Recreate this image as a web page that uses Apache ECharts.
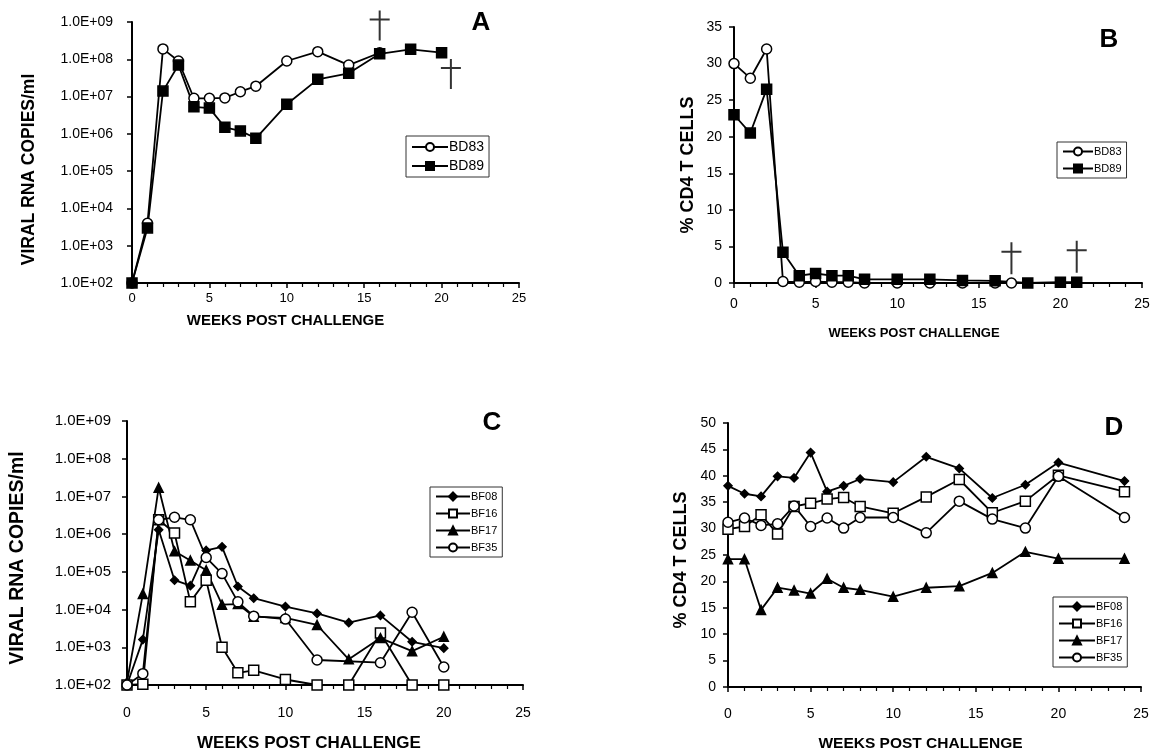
<!DOCTYPE html>
<html>
<head>
<meta charset="utf-8">
<script src="https://cdn.jsdelivr.net/npm/echarts@6/dist/echarts.min.js"></script>
<style>html,body{margin:0;padding:0;background:#fff}#c{width:1153px;height:753px}</style>
</head>
<body>
<div id="c"></div>
<script>
// ---------- DATA ----------
// Panel A: viral RNA copies/ml (log)
const weeksA83 = [0,1,2,3,4,5,6,7,8,10,12,14,16];
const bd83A    = [1e2,4e3,1.9e8,9e7,9e6,9e6,9.2e6,1.35e7,1.9e7,9e7,1.6e8,7e7,1.5e8];
const weeksA89 = [0,1,2,3,4,5,6,7,8,10,12,14,16,18,20];
const bd89A    = [1e2,3e3,1.4e7,7e7,5.3e6,4.9e6,1.5e6,1.2e6,7.6e5,6.2e6,2.9e7,4.2e7,1.4e8,1.85e8,1.5e8];
const deathWeeksA = [16,20.6];
const deathLevelA = [8e8,4e7];

// Panel B: % CD4 T cells
const weeksB83 = [0,1,2,3,4,5,6,7,8,10,12,14,16,17];
const bd83B    = [30,28,32,0.2,0.1,0.2,0.1,0.1,0,0,0,0,0,0];
const weeksB89 = [0,1,2,3,4,5,6,7,8,10,12,14,16,18,20,21];
const bd89B    = [23,20.5,26.5,4.2,1.0,1.3,1.0,1.0,0.5,0.5,0.5,0.35,0.3,0,0.1,0.1];
const deathWeeksB = [17,21];
const deathLevelB = [3.4,3.6];

// Panel C: viral RNA copies/ml (log)
const weeksC  = [0,1,2,3,4,5,6,7,8,10,12,14,16,18,20];
const bf08C   = [1e2,1.6e3,1.3e6,6e4,4.3e4,3.7e5,4.6e5,4.1e4,2e4,1.2e4,7.9e3,4.5e3,7e3,1.4e3,950];
const bf16C   = [1e2,1.05e2,2.4e6,1.07e6,1.6e4,6e4,1e3,210,245,140,100,100,2.4e3,100,100];
const bf17C   = [1.2e2,2.6e4,1.7e7,3.5e5,2e5,1.1e5,1.35e4,1.4e4,6.5e3,6e3,3.9e3,480,1.75e3,790,1.9e3];
const weeksC35 = [0,1,2,3,4,5,6,7,8,10,12,16,18,20];
const bf35C   = [1e2,200,2.4e6,2.8e6,2.4e6,2.4e5,9e4,1.6e4,6.7e3,5.6e3,460,390,8.5e3,300];

// Panel D: % CD4 T cells
const weeksD = [0,1,2,3,4,5,6,7,8,10,12,14,16,18,20,24];
const bf08D  = [38.1,36.6,36.1,39.9,39.6,44.4,37.0,38.1,39.4,38.8,43.6,41.4,35.8,38.3,42.5,39.0];
const bf16D  = [29.9,30.4,32.6,29.0,34.2,34.8,35.6,35.9,34.2,32.9,36.0,39.3,33.0,35.2,40.1,37.0];
const bf17D  = [24.2,24.2,14.6,18.8,18.3,17.7,20.5,18.8,18.4,17.1,18.8,19.1,21.6,25.6,24.3,24.3];
const bf35D  = [31.2,32.0,30.6,30.9,34.3,30.4,32.0,30.1,32.1,32.1,29.2,35.2,31.8,30.1,39.9,32.1];

const xTickLabels = [0,5,10,15,20,25];
const namesBD = ['BD83','BD89'];
const namesBF = ['BF08','BF16','BF17','BF35'];
// ---------------------------

const zip = (xs, ys) => xs.map((x, i) => [x, ys[i]]);
const FONT = 'Liberation Sans, Arial, sans-serif';
const BLK = '#000';

const styles = {
  BD83: { symbol: 'circle', symbolSize: 10, fill: '#fff' },
  BD89: { symbol: 'rect', symbolSize: 10, fill: BLK },
  BF08: { symbol: 'diamond', symbolSize: 8, fill: BLK },
  BF16: { symbol: 'rect', symbolSize: 10, fill: '#fff' },
  BF17: { symbol: 'triangle', symbolSize: 9, fill: BLK },
  BF35: { symbol: 'circle', symbolSize: 10, fill: '#fff' }
};

function lineSeries(name, idx, data) {
  const s = styles[name];
  return {
    type: 'line', name, xAxisIndex: idx, yAxisIndex: idx, data,
    symbol: s.symbol, symbolSize: s.symbolSize, showAllSymbol: true,
    lineStyle: { color: BLK, width: 1.8 },
    itemStyle: { color: s.fill, borderColor: BLK, borderWidth: 1.5 },
    emphasis: { disabled: true }, animation: false, z: 3
  };
}

const dagger = 'path://M9,0h2v30h-2z M0,8h20v2h-20z';
function deathSeries(idx, xs, ys, size) {
  return {
    type: 'scatter', name: 'death', xAxisIndex: idx, yAxisIndex: idx,
    data: zip(xs, ys), symbol: dagger, symbolSize: size, clip: false,
    itemStyle: { color: BLK }, animation: false, silent: true, z: 5
  };
}

const logFmt = v => { const e = Math.round(Math.log10(v)); return '1.0E+' + (e < 10 ? '0' : '') + e; };

function xAxis(idx, nameGap, nameSize, shiftPad, labelMargin, labelSize) {
  return {
    type: 'value', gridIndex: idx, min: 0, max: 25, interval: 5,
    name: 'WEEKS POST CHALLENGE', nameLocation: 'middle', nameGap,
    nameTextStyle: { fontFamily: FONT, fontSize: nameSize, fontWeight: 'bold', color: BLK, padding: [0, shiftPad, 0, 0] },
    axisLine: { lineStyle: { color: BLK, width: 2 } },
    axisTick: { show: true, length: 5, lineStyle: { color: BLK, width: 1.5 } },
    minorTick: { show: true, splitNumber: 5, length: 4, lineStyle: { color: BLK, width: 1.2 } },
    splitLine: { show: false },
    axisLabel: { fontFamily: FONT, fontSize: labelSize, color: BLK, margin: labelMargin,
      formatter: v => xTickLabels.includes(v) ? String(v) : '' }
  };
}

function logYAxis(idx, nameGap, nameSize, shiftPad, labelMargin, labelSize) {
  return {
    type: 'log', gridIndex: idx, logBase: 10, min: 100, max: 1e9, splitNumber: 7,
    name: 'VIRAL RNA COPIES/ml', nameLocation: 'middle', nameGap, nameRotate: 90,
    nameTextStyle: { fontFamily: FONT, fontSize: nameSize, fontWeight: 'bold', color: BLK, padding: [0, shiftPad, 0, 0] },
    axisLine: { show: true, lineStyle: { color: BLK, width: 2 } },
    axisTick: { show: true, length: 5, lineStyle: { color: BLK, width: 1.5 } },
    splitLine: { show: false },
    axisLabel: { fontFamily: FONT, fontSize: labelSize, color: BLK, margin: labelMargin, formatter: logFmt }
  };
}

function linYAxis(idx, max, nameGap, nameSize, shiftPad, labelMargin, labelSize) {
  return {
    type: 'value', gridIndex: idx, min: 0, max, interval: 5,
    name: '% CD4 T CELLS', nameLocation: 'middle', nameGap, nameRotate: 90,
    nameTextStyle: { fontFamily: FONT, fontSize: nameSize, fontWeight: 'bold', color: BLK, padding: [0, shiftPad, 0, 0] },
    axisLine: { show: true, lineStyle: { color: BLK, width: 2 } },
    axisTick: { show: true, length: 5, lineStyle: { color: BLK, width: 1.5 } },
    splitLine: { show: false },
    axisLabel: { fontFamily: FONT, fontSize: labelSize, color: BLK, margin: labelMargin }
  };
}

function legend(data, left, top, fontSize, gap, w) {
  return {
    data, orient: 'vertical', left, top, itemWidth: w, itemHeight: 10, itemGap: gap,
    borderColor: '#333', borderWidth: 1, padding: [4, 5, 4, 5], selectedMode: false,
    textStyle: { fontFamily: FONT, fontSize, color: BLK, padding: [0, 0, 0, -4] }
  };
}

function letter(t, x, y) {
  return { text: t, left: x, top: y, textAlign: 'center',
    textStyle: { fontFamily: FONT, fontSize: 26, fontWeight: 'bold', color: BLK } };
}

const option = {
  backgroundColor: '#fff',
  animation: false,
  title: [letter('A', 476, 5), letter('B', 1104, 22), letter('C', 487, 405), letter('D', 1109, 410)],
  grid: [
    { left: 132, top: 22, width: 387, height: 261 },
    { left: 734, top: 27, width: 408, height: 256 },
    { left: 127, top: 421, width: 396, height: 269 },
    { left: 728, top: 423, width: 413, height: 269 }
  ],
  xAxis: [xAxis(0, 30, 15, 80, 9, 13), xAxis(1, 44, 13, 48, 14, 14), xAxis(2, 50, 17, 32, 21, 14), xAxis(3, 49, 15.5, 28, 20, 14)],
  yAxis: [logYAxis(0, 94, 17.5, 34, 19, 14), linYAxis(1, 35, 37, 18, 20, 12, 14), logYAxis(2, 99, 19.5, 10, 16, 15), linYAxis(3, 50, 38, 18, 10, 12, 14)],
  legend: [
    legend(namesBD, 406, 136, 14, 5, 36),
    legend(namesBD, 1057, 142, 11, 6, 30),
    legend(namesBF, 430, 487, 11, 6, 34),
    legend(namesBF, 1053, 597, 11, 6, 36)
  ],
  series: [
    lineSeries('BD83', 0, zip(weeksA83, bd83A)),
    lineSeries('BD89', 0, zip(weeksA89, bd89A)),
    deathSeries(0, deathWeeksA, deathLevelA, [20, 30]),
    lineSeries('BD83', 1, zip(weeksB83, bd83B)),
    lineSeries('BD89', 1, zip(weeksB89, bd89B)),
    deathSeries(1, deathWeeksB, deathLevelB, [20, 32]),
    lineSeries('BF08', 2, zip(weeksC, bf08C)),
    lineSeries('BF16', 2, zip(weeksC, bf16C)),
    lineSeries('BF17', 2, zip(weeksC, bf17C)),
    lineSeries('BF35', 2, zip(weeksC35, bf35C)),
    lineSeries('BF08', 3, zip(weeksD, bf08D)),
    lineSeries('BF16', 3, zip(weeksD, bf16D)),
    lineSeries('BF17', 3, zip(weeksD, bf17D)),
    lineSeries('BF35', 3, zip(weeksD, bf35D))
  ]
};

const chart = echarts.init(document.getElementById('c'), null, { renderer: 'canvas' });
chart.setOption(option);
</script>
</body>
</html>
